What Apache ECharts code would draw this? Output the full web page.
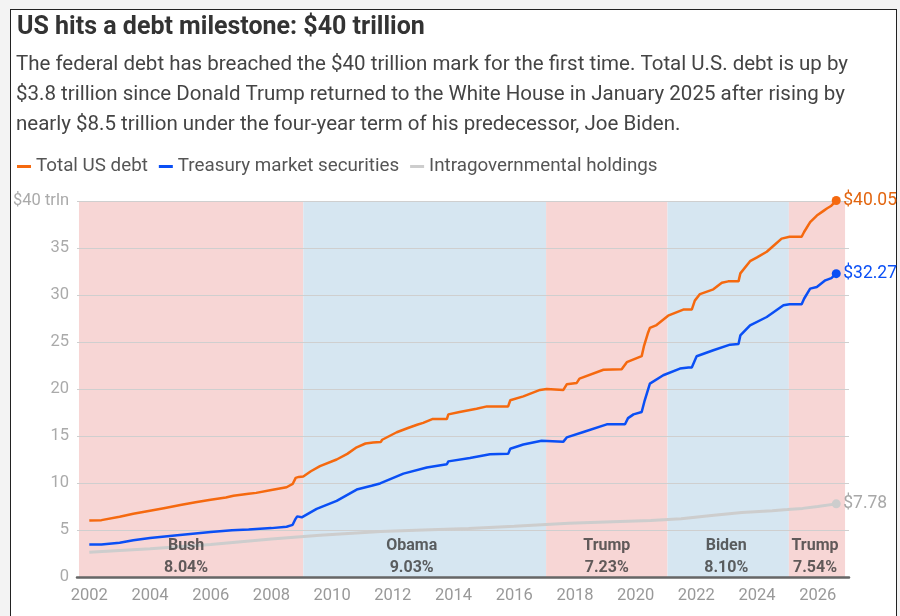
<!DOCTYPE html>
<html>
<head>
<meta charset="utf-8">
<script src="https://cdn.jsdelivr.net/npm/echarts@6/dist/echarts.min.js"></script>
<style>
body{margin:0;background:#f3f3f3;}
#frame{position:absolute;left:10px;top:9px;width:885px;height:640px;background:#fff;border:1.5px solid #222;}
#main{position:absolute;left:0;top:0;width:900px;height:616px;}
</style>
</head>
<body>
<div id="frame"></div>
<div id="main"></div>
<script>
// x values are decimal years, y values trillions of dollars
var totalYears = [2002.0,2002.4,2003.0,2003.45,2004.0,2004.5,2005.0,2005.5,2006.0,2006.5,2006.75,2007.25,2007.5,2008.0,2008.5,2008.7,2008.8,2008.9,2009.05,2009.3,2009.6,2010.15,2010.5,2010.81,2011.1,2011.35,2011.6,2011.65,2012.13,2012.5,2012.8,2013.0,2013.3,2013.78,2013.83,2014.2,2014.76,2015.1,2015.8,2015.87,2016.3,2016.85,2017.07,2017.62,2017.73,2018.06,2018.1,2018.15,2018.94,2019.54,2019.6,2019.71,2020.2,2020.27,2020.4,2020.47,2020.69,2021.07,2021.57,2021.85,2021.95,2022.12,2022.56,2022.84,2023.05,2023.39,2023.45,2023.77,2024.0,2024.32,2024.6,2024.81,2025.07,2025.47,2025.55,2025.75,2025.97,2026.19,2026.3,2026.45,2026.61];
var totalDebt = [6.00,6.05,6.40,6.72,7.05,7.35,7.65,7.95,8.22,8.45,8.65,8.85,8.95,9.25,9.55,9.90,10.55,10.65,10.70,11.25,11.80,12.50,13.10,13.80,14.20,14.30,14.35,14.60,15.40,15.85,16.20,16.40,16.80,16.80,17.30,17.55,17.90,18.15,18.15,18.80,19.22,19.90,20.00,19.90,20.50,20.65,20.65,21.10,22.05,22.10,22.10,22.85,23.50,24.50,25.90,26.50,26.80,27.80,28.45,28.45,29.40,30.10,30.60,31.30,31.45,31.45,32.30,33.60,34.00,34.60,35.40,36.00,36.20,36.20,36.70,37.75,38.45,38.95,39.20,39.50,40.05];

var publicYears = [2002.0,2002.4,2003.0,2003.45,2004.0,2004.9,2006.0,2006.7,2007.25,2008.0,2008.5,2008.7,2008.78,2008.85,2009.0,2009.05,2009.49,2010.15,2010.81,2011.3,2011.58,2012.35,2013.12,2013.78,2013.83,2014.54,2015.2,2015.8,2015.87,2016.3,2016.9,2017.62,2017.73,2018.28,2019.05,2019.65,2019.75,2019.93,2020.2,2020.3,2020.47,2020.91,2021.46,2021.74,2021.85,2022.01,2022.56,2023.11,2023.39,2023.45,2023.77,2024.32,2024.87,2025.07,2025.47,2025.55,2025.75,2025.97,2026.25,2026.45,2026.61];
var publicDebt = [3.45,3.45,3.65,3.90,4.15,4.45,4.78,4.97,5.05,5.20,5.35,5.55,6.10,6.45,6.35,6.33,7.25,8.10,9.30,9.70,9.95,11.00,11.65,11.99,12.30,12.66,13.05,13.10,13.65,14.09,14.50,14.40,14.85,15.43,16.24,16.25,16.90,17.30,17.55,18.80,20.57,21.46,22.17,22.28,22.30,23.48,24.12,24.72,24.78,25.70,26.78,27.66,28.90,29.01,29.01,29.60,30.68,30.85,31.56,31.80,32.27];

var intraYears = [2002.0,2004.0,2006.0,2008.0,2009.6,2011.6,2013.0,2014.5,2016.0,2017.8,2019.0,2020.5,2021.5,2022.5,2023.5,2024.5,2025.0,2025.5,2026.0,2026.61];
var intraDebt = [2.62,3.00,3.45,4.05,4.45,4.85,5.00,5.15,5.40,5.72,5.85,6.00,6.20,6.55,6.85,7.05,7.17,7.30,7.50,7.78];

var presidents = ['Bush','Obama','Trump','Biden','Trump'];
var termStart = [2001.66,2009.05,2017.05,2021.05,2025.05];
var termEnd = [2009.05,2017.05,2021.05,2025.05,2026.9];
var termGrowth = ['8.04%','9.03%','7.23%','8.10%','7.54%'];
var termParty = ['R','D','R','D','R'];

var xTicks = [2002,2004,2006,2008,2010,2012,2014,2016,2018,2020,2022,2024,2026];

var FONT = 'Roboto, "Noto Sans", sans-serif';
var partyColor = {R:'#f7d6d5', D:'#d6e6f1'};
var labelShift = [-5,-13,0,-2,-2];

function pairs(xs, ys){
    var out=[];
    for(var i=0;i<xs.length;i++){ out.push([xs[i], ys[i]]); }
    return out;
}

var areas=[], termLabels=[];
for(var i=0;i<presidents.length;i++){
    areas.push([{
        xAxis: termStart[i],
        itemStyle:{color: partyColor[termParty[i]]}
    },{xAxis: termEnd[i]}]);
    termLabels.push({
        value: [(termStart[i]+termEnd[i])/2, 0],
        name: presidents[i]+'\n'+termGrowth[i],
        label: {offset: [labelShift[i], 0]}
    });
}

function lineSeries(name, xs, ys, color, labelColor, width){
    var last = xs.length-1;
    return {
        name: name,
        type: 'line',
        z: 3,
        clip: false,
        data: pairs(xs, ys),
        symbol: 'circle',
        showSymbol: true,
        showAllSymbol: true,
        symbolSize: function(v, p){ return p.dataIndex===last ? 9 : 0; },
        itemStyle: {color: color},
        lineStyle: {color: color, width: width},
        endLabel: {
            show: true,
            formatter: function(p){ return '$'+p.value[1].toFixed(2); },
            color: labelColor,
            fontFamily: FONT,
            fontSize: 17.5,
            distance: 7
        },
        emphasis: {disabled: true},
        animation: false
    };
}

var myChart = echarts.init(document.getElementById('main'));
var option = {
    textStyle: {fontFamily: FONT},
    title: [{
        text: 'US hits a debt milestone: $40 trillion',
        left: 12, top: 10,
        textStyle: {fontFamily: FONT, fontSize: 25, fontWeight: 'bold', color: '#333'}
    },{
        text: 'The federal debt has breached the $40 trillion mark for the first time. Total U.S. debt is up by\n$3.8 trillion since Donald Trump returned to the White House in January 2025 after rising by\nnearly $8.5 trillion under the four-year term of his predecessor, Joe Biden.',
        left: 11, top: 45,
        textStyle: {fontFamily: FONT, fontSize: 20.5, fontWeight: 'normal', lineHeight: 30, color: '#444'}
    }],
    legend: {
        data: ['Total US debt','Treasury market securities','Intragovernmental holdings'],
        left: 12, top: 152,
        icon: 'rect',
        itemWidth: 14, itemHeight: 3, itemGap: 11,
        textStyle: {fontFamily: FONT, fontSize: 18.8, color: '#555'}
    },
    grid: {left: 77, right: 51, top: 201, bottom: 39},
    xAxis: {
        type: 'value',
        min: 2001.595, max: 2027.03,
        z: 2,
        axisLine: {show: true, lineStyle: {color: '#666', width: 2.5}},
        axisTick: {show: false},
        splitLine: {show: false},
        axisLabel: {
            customValues: xTicks,
            formatter: function(v){ return String(Math.round(v)); },
            color: '#999', fontSize: 16.5, margin: 10
        }
    },
    yAxis: {
        type: 'value',
        min: 0, max: 40, interval: 5,
        z: 2,
        axisLine: {show: false},
        axisTick: {show: false},
        splitLine: {lineStyle: {color: '#cfcfcf', width: 1}},
        axisLabel: {
            formatter: function(v){ return v===40 ? '$40 trln' : v; },
            color: '#aaa', fontSize: 16.5, margin: 8
        }
    },
    series: [{
        name: 'terms',
        type: 'line',
        data: [],
        z: 0,
        silent: true,
        markArea: {
            z: 1,
            silent: true,
            data: areas
        }
    },
    lineSeries('Intragovernmental holdings', intraYears, intraDebt, '#cdcdcd', '#a8a8a8', 3),
    lineSeries('Treasury market securities', publicYears, publicDebt, '#0a4ff5', '#0a4ff5', 2.5),
    lineSeries('Total US debt', totalYears, totalDebt, '#f5690f', '#e2650f', 2.5),
    {
        name: 'termLabels',
        type: 'scatter',
        z: 4,
        silent: true,
        symbolSize: 0,
        data: termLabels,
        label: {
            show: true,
            position: 'top',
            distance: -2,
            formatter: '{b}',
            fontFamily: FONT,
            fontSize: 16,
            fontWeight: 'bold',
            lineHeight: 22,
            color: '#3a3a3a'
        },
        animation: false
    }]
};
myChart.setOption(option);
window.addEventListener('resize', function(){ myChart.resize(); });
</script>
</body>
</html>
